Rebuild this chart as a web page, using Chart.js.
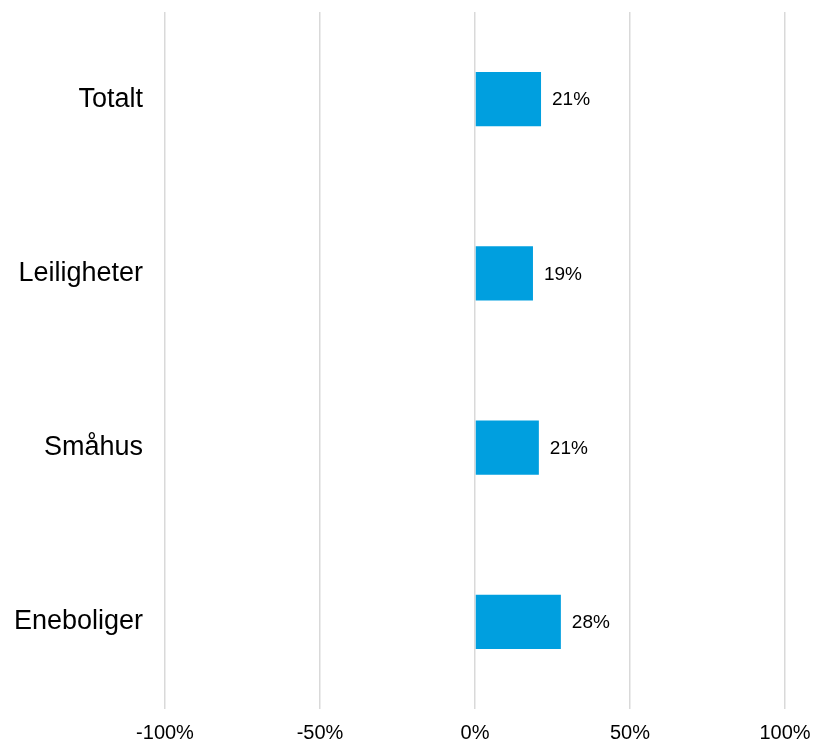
<!DOCTYPE html>
<html>
<head>
<meta charset="utf-8">
<script src="https://cdn.jsdelivr.net/npm/chart.js@4/dist/chart.umd.min.js"></script>
<style>
html,body{margin:0;padding:0;background:#fff;}
#wrap{width:815px;height:745px;}
</style>
</head>
<body>
<div id="wrap"><canvas id="c" width="815" height="745"></canvas></div>
<script>
const categories = ["Totalt", "Leiligheter", "Småhus", "Eneboliger"];
const values = [0.213, 0.187, 0.206, 0.277];
const tickValues = [-1, -0.5, 0, 0.5, 1];

const FONT = "'Liberation Sans', Arial, sans-serif";
const fmtPct = v => Math.round(v * 100) + "%";

const dataLabels = {
  id: "dataLabels",
  afterDatasetsDraw(chart) {
    const ctx = chart.ctx;
    const meta = chart.getDatasetMeta(0);
    ctx.save();
    ctx.font = "19px " + FONT;
    ctx.fillStyle = "#000";
    ctx.textAlign = "left";
    ctx.textBaseline = "middle";
    meta.data.forEach((bar, i) => {
      ctx.fillText(fmtPct(values[i]), bar.x + 11, bar.y + 1);
    });
    ctx.restore();
  }
};

new Chart(document.getElementById("c"), {
  type: "bar",
  data: {
    labels: categories,
    datasets: [{
      data: values,
      backgroundColor: "#009FDF",
      borderWidth: 0,
      categoryPercentage: 1,
      barPercentage: 0.31
    }]
  },
  options: {
    indexAxis: "y",
    responsive: false,
    animation: false,
    devicePixelRatio: 1,
    layout: { padding: { left: 0, right: 30, top: 12, bottom: 0 } },
    plugins: { legend: { display: false }, tooltip: { enabled: false } },
    scales: {
      x: {
        min: -1, max: 1,
        afterBuildTicks: axis => { axis.ticks = tickValues.map(v => ({ value: v })); },
        afterFit: axis => { axis.height = 36; axis.paddingLeft = 0; axis.paddingRight = 0; },
        grid: { color: "#d9d9d9", lineWidth: 1.5, drawTicks: false },
        border: { display: false },
        ticks: {
          padding: 12,
          color: "#000",
          font: { family: FONT, size: 20 },
          callback: v => fmtPct(v),
          maxRotation: 0
        }
      },
      y: {
        afterFit: axis => { axis.width = 165; axis.paddingTop = 0; axis.paddingBottom = 0; },
        grid: { display: false, drawTicks: false },
        border: { display: false },
        ticks: {
          padding: 22,
          color: "#000",
          font: { family: FONT, size: 27 }
        }
      }
    }
  },
  plugins: [dataLabels]
});
</script>
</body>
</html>
